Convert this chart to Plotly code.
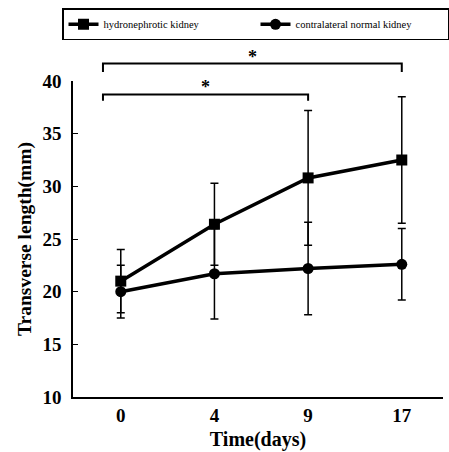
import plotly.graph_objects as go

days = ["0", "4", "9", "17"]
hydro_mean = [21.0, 26.4, 30.8, 32.5]
hydro_sd = [3.0, 3.9, 6.4, 6.0]
normal_mean = [20.0, 21.7, 22.2, 22.6]
normal_sd = [2.5, 4.3, 4.4, 3.4]

xpos = list(range(len(days)))
SERIF = "Liberation Serif, Times New Roman, serif"

fig = go.Figure()
fig.add_trace(go.Scatter(
    x=xpos, y=hydro_mean, name="hydronephrotic kidney", mode="lines+markers",
    line=dict(color="black", width=3.5),
    marker=dict(symbol="square", size=11, color="black"),
    error_y=dict(type="data", array=hydro_sd, visible=True, color="black", thickness=1.5, width=4),
))
fig.add_trace(go.Scatter(
    x=xpos, y=normal_mean, name="contralateral normal kidney", mode="lines+markers",
    line=dict(color="black", width=3.5),
    marker=dict(symbol="circle", size=11, color="black"),
    error_y=dict(type="data", array=normal_sd, visible=True, color="black", thickness=1.5, width=4),
))

# significance brackets (y in paper coords above plot area)
def ypaper(v):
    return (v - 10) / 30.0

shapes = []
for (x0, x1, yv, drop) in [(-0.19, 3.0, 41.66, 0.8), (-0.19, 2.0, 38.72, 0.6)]:
    yt = ypaper(yv)
    yb = ypaper(yv - drop)
    shapes.append(dict(type="path", xref="x", yref="paper",
                       path=f"M {x0},{yb} L {x0},{yt} L {x1},{yt} L {x1},{yb}",
                       line=dict(color="black", width=2)))
annotations = [
    dict(x=(-0.19 + 3.0) / 2, y=ypaper(41.66), xref="x", yref="paper", text="*",
         showarrow=False, yanchor="bottom", font=dict(family=SERIF, size=18, color="black", weight="bold"), yshift=-5),
    dict(x=(-0.19 + 2.0) / 2, y=ypaper(38.72), xref="x", yref="paper", text="*",
         showarrow=False, yanchor="bottom", font=dict(family=SERIF, size=18, color="black", weight="bold"), yshift=-5),
]

fig.update_layout(
    width=449, height=452,
    margin=dict(l=73, r=6, t=81, b=55),
    paper_bgcolor="white", plot_bgcolor="white",
    shapes=shapes, annotations=annotations,
    showlegend=True,
    legend=dict(orientation="h", x=-0.0216, y=1.23, xanchor="left", yanchor="top",
                bordercolor="black", borderwidth=1.5,
                font=dict(family=SERIF, size=10.5, color="black"),
                entrywidth=147, itemwidth=30, tracegroupgap=0),
    xaxis=dict(range=[-0.51, 3.44], tickvals=xpos, ticktext=days, showgrid=False, zeroline=False,
               showline=True, linecolor="black", linewidth=1.5, ticks="",
               tickfont=dict(family=SERIF, size=19, color="black", weight="bold"),
               title=dict(text="Time(days)", font=dict(family=SERIF, size=20, color="black", weight="bold"), standoff=7)),
    yaxis=dict(range=[10, 40], tickvals=[10, 15, 20, 25, 30, 35, 40], showgrid=False, zeroline=False,
               showline=True, linecolor="black", linewidth=1.5, ticks="inside", ticklen=5, tickcolor="black",
               ticklabelstandoff=6,
               tickfont=dict(family=SERIF, size=19, color="black", weight="bold"),
               title=dict(text="Transverse length(mm)", font=dict(family=SERIF, size=19.5, color="black", weight="bold"), standoff=6)),
)

fig.write_html("out.html")
